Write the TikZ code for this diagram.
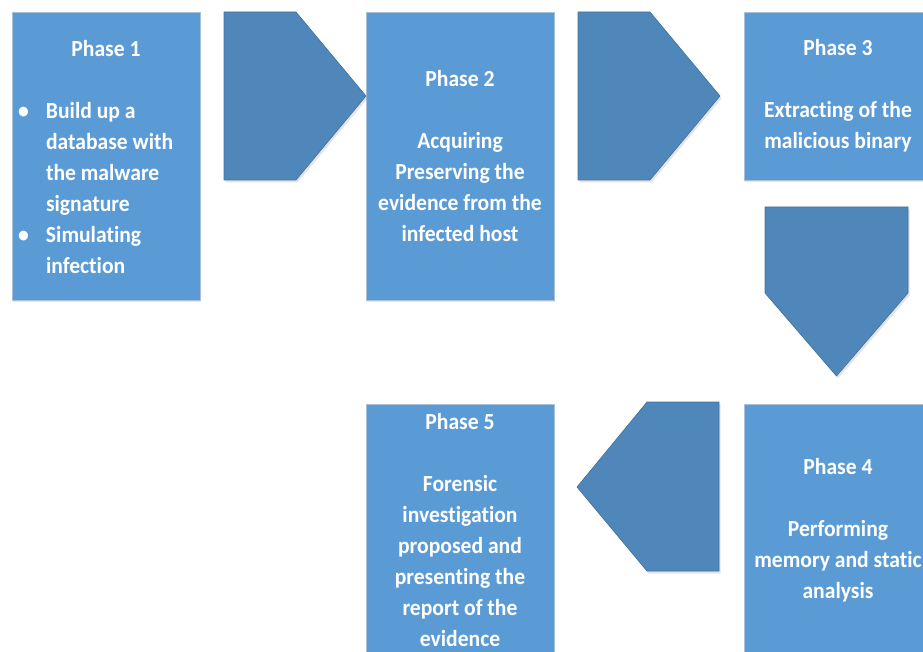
\documentclass[tikz,border=0pt]{standalone}
\usepackage{fontspec}
\setmainfont{Carlito}[FakeStretch=0.94, RawFeature={-liga}]
\usetikzlibrary{shadows}
\definecolor{boxblue}{HTML}{5B9BD5}
\definecolor{boxedge}{HTML}{A9C0D6}
\definecolor{arrblue}{HTML}{4F87BA}
\definecolor{arredge}{HTML}{41719C}
\tikzset{
  phasebox/.style={fill=boxblue, draw=boxedge, line width=0.8pt,
    drop shadow={opacity=0.18, shadow xshift=1pt, shadow yshift=-2pt}},
  phasetext/.style={text=white, font=\fontsize{23}{31}\selectfont\bfseries,
    align=center, inner sep=0pt},
  chevron/.style={fill=arrblue, draw=arredge, line width=0.6pt,
    drop shadow={opacity=0.22, shadow xshift=1.5pt, shadow yshift=-2.5pt}}
}
\newcommand{\blt}[1]{\makebox[28pt][l]{•}\mbox{#1}}
\newcommand{\cnt}[1]{\hspace*{28pt}\mbox{#1}}
\begin{document}
\begin{tikzpicture}[x=1pt,y=-1pt]
\useasboundingbox (0,0) rectangle (923,652);
\begin{scope}
\clip (0,0) rectangle (923,652);
% boxes
\path[phasebox] (12,12) rectangle (200,300);
\path[phasebox] (366,12) rectangle (554,300);
\path[phasebox] (744,12) rectangle (935,180);
\path[phasebox] (744,404) rectangle (935,670);
\path[phasebox] (366,404) rectangle (554,670);
% chevrons
\path[chevron] (224,12) -- (296,12) -- (366,96) -- (296,180) -- (224,180) -- cycle;
\path[chevron] (578,12) -- (650,12) -- (720,96) -- (650,180) -- (578,180) -- cycle;
\path[chevron] (765,207) -- (908,207) -- (908,293) -- (836.5,376) -- (765,293) -- cycle;
\path[chevron] (719,402) -- (719,571) -- (647,571) -- (577,487) -- (647,402) -- cycle;
\end{scope}
% texts
\node[phasetext, align=left, text width=176pt, anchor=center] (t1) at (106,157)
  {\spaceskip=0pt\xspaceskip=0pt
   \makebox[\linewidth][c]{Phase 1}\\[31pt]
   \blt{Build up a}\\
   \cnt{database with}\\
   \cnt{the malware}\\
   \cnt{signature}\\
   \blt{Simulating}\\
   \cnt{infection}};
\node[phasetext] (t2) at (460,156)
  {Phase 2\\[31pt] Acquiring\\ Preserving the\\ evidence from the\\ infected host};
\node[phasetext] (t3) at (838,96)
  {Phase 3\\[31pt] Extracting of the\\ malicious binary};
\node[phasetext] (t4) at (838,530)
  {Phase 4\\[31pt] Performing\\ memory and static\\ analysis};
\node[phasetext] (t5) at (460,530)
  {Phase 5\\[31pt] Forensic\\ investigation\\ proposed and\\ presenting the\\ report of the\\ evidence};
\end{tikzpicture}
\end{document}
